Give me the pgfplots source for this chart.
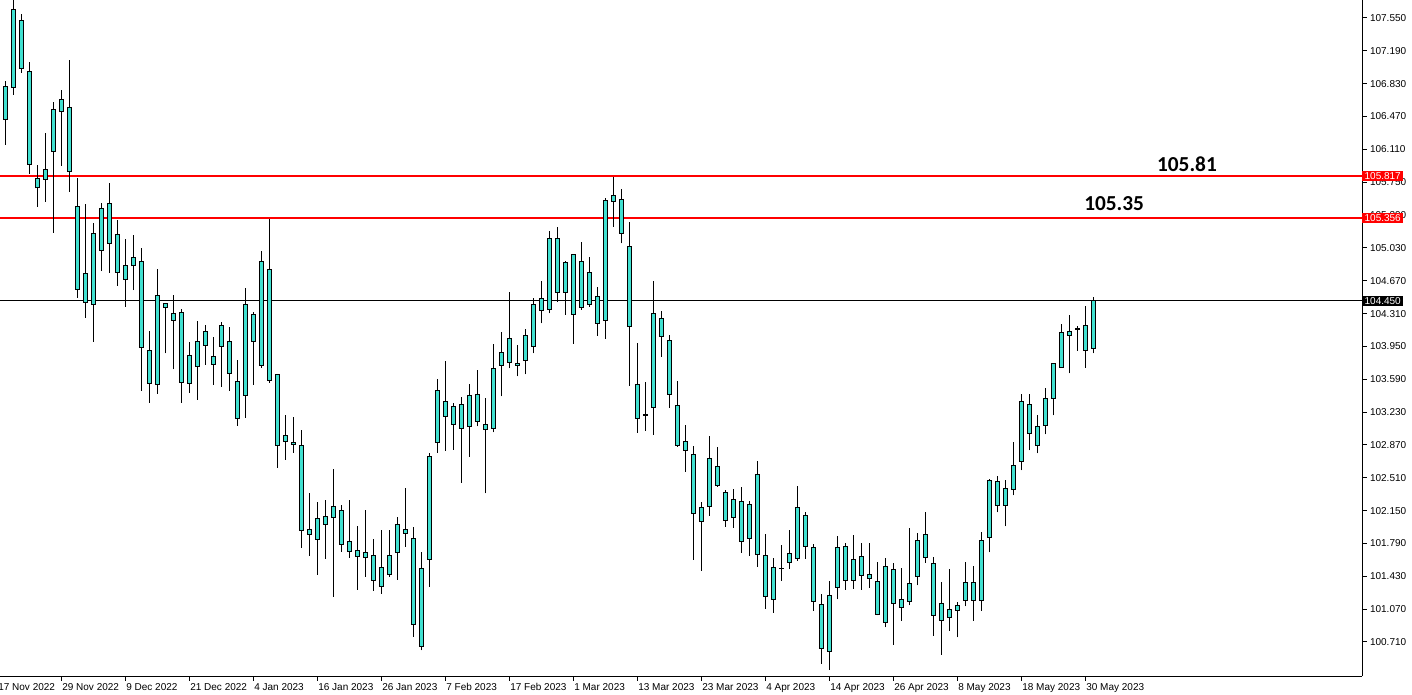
\documentclass[border=0pt]{standalone}
\usepackage{pgfplots}
\pgfplotsset{compat=1.18}
\usepackage{pgfplotstable}
\usepackage{fontspec}
\setmainfont{Liberation Sans}
\newfontfamily\lblfont{Carlito}
\definecolor{candle}{RGB}{64,224,208}

% daily candles, i = bar index (8 px apart); hi/lo = wick, top/bot = body
\pgfplotstableread{
i hi lo top bot
0 106.859 106.158 106.797 106.439
1 107.800 106.709 107.645 106.790
2 107.594 106.950 107.525 106.998
3 107.067 105.843 106.965 105.946
4 105.938 105.481 105.793 105.689
5 106.286 105.536 105.891 105.782
6 106.626 105.196 106.549 106.088
7 106.760 105.931 106.659 106.527
8 107.089 105.646 106.571 105.869
9 105.799 104.484 105.486 104.576
10 105.511 104.264 104.751 104.433
11 105.299 104.001 105.190 104.411
12 105.518 104.776 105.464 105.003
13 105.741 104.758 105.518 105.080
14 105.335 104.615 105.179 104.762
15 105.127 104.385 104.839 104.685
16 105.171 104.568 104.927 104.834
17 105.025 103.464 104.883 103.940
18 104.119 103.333 103.907 103.545
19 104.798 103.431 104.510 103.534
20 104.429 103.874 104.415 104.378
21 104.513 103.699 104.313 104.236
22 104.357 103.333 104.324 103.556
23 104.001 103.442 103.852 103.545
24 104.228 103.366 104.006 103.732
25 104.184 103.749 104.115 103.962
26 104.053 103.530 103.841 103.754
27 104.214 103.505 104.181 103.951
28 104.162 103.464 104.006 103.655
29 103.801 103.081 103.567 103.157
30 104.590 103.168 104.411 103.414
31 104.324 103.530 104.302 104.006
32 104.996 103.716 104.883 103.743
33 105.343 103.552 104.795 103.578
34 103.644 102.620 103.644 102.866
35 103.198 102.708 102.975 102.910
36 103.176 102.785 102.899 102.877
37 103.033 101.743 102.866 101.934
38 102.346 101.655 101.945 101.890
39 102.244 101.447 102.065 101.835
40 102.266 101.623 102.087 102.000
41 102.606 101.206 102.197 102.076
42 102.211 101.699 102.153 101.780
43 102.266 101.634 101.813 101.704
44 101.981 101.283 101.718 101.649
45 102.156 101.425 101.693 101.638
46 101.839 101.272 101.660 101.386
47 101.940 101.239 101.528 101.320
48 101.940 101.425 101.660 101.452
49 102.080 101.392 102.000 101.693
50 102.398 101.754 101.945 101.901
51 101.970 100.768 101.846 100.907
52 101.696 100.618 101.517 100.662
53 102.785 101.316 102.745 101.616
54 103.592 102.785 103.469 102.899
55 103.790 102.806 103.348 103.184
56 103.326 102.817 103.293 103.096
57 103.392 102.456 103.315 103.052
58 103.534 102.741 103.414 103.074
59 103.691 103.074 103.425 103.129
60 103.381 102.339 103.096 103.041
61 103.973 103.008 103.710 103.052
62 104.104 103.403 103.885 103.743
63 104.543 103.710 104.039 103.776
64 103.962 103.622 103.765 103.743
65 104.137 103.644 104.072 103.797
66 104.477 103.874 104.411 103.951
67 104.663 104.203 104.477 104.346
68 105.215 104.313 105.135 104.357
69 105.255 104.437 105.135 104.543
70 104.883 104.297 104.872 104.543
71 104.959 103.979 104.959 104.302
72 105.091 104.352 104.883 104.378
73 104.927 104.385 104.762 104.411
74 104.598 104.067 104.499 104.203
75 105.573 104.034 105.551 104.236
76 105.803 105.262 105.606 105.540
77 105.672 105.080 105.562 105.190
78 105.310 103.519 105.047 104.170
79 103.984 103.004 103.534 103.162
80 103.556 103.026 103.201 103.195
81 104.663 102.982 104.313 103.282
82 104.335 103.837 104.258 104.061
83 104.072 103.278 104.017 103.425
84 103.567 102.850 103.304 102.866
85 103.085 102.576 102.910 102.811
86 102.855 101.612 102.767 102.117
87 102.241 101.491 102.186 102.033
88 102.964 102.094 102.723 102.197
89 102.844 102.412 102.635 102.427
90 102.372 101.973 102.350 102.044
91 102.387 101.962 102.274 102.076
92 102.409 101.688 102.252 101.813
93 102.252 101.655 102.219 101.846
94 102.694 101.535 102.548 101.671
95 101.893 101.074 101.660 101.210
96 101.630 101.031 101.528 101.178
97 101.773 101.381 101.517 101.513
98 101.937 101.513 101.682 101.583
99 102.419 101.601 102.186 101.627
100 102.134 101.623 102.098 101.758
101 101.780 101.052 101.748 101.156
102 101.236 100.472 101.123 100.640
103 101.378 100.406 101.221 100.607
104 101.871 101.178 101.748 101.309
105 101.795 101.283 101.758 101.386
106 101.882 101.294 101.616 101.386
107 101.795 101.283 101.649 101.441
108 101.795 101.305 101.452 101.408
109 101.586 101.002 101.375 101.013
110 101.627 100.871 101.539 100.925
111 101.575 100.680 101.506 101.134
112 101.521 100.945 101.178 101.090
113 101.959 101.110 101.353 101.156
114 101.901 101.331 101.824 101.430
115 102.134 101.579 101.890 101.638
116 101.638 100.779 101.572 101.002
117 101.364 100.570 101.134 100.947
118 101.506 100.833 101.068 100.980
119 101.145 100.761 101.112 101.057
120 101.583 101.101 101.364 101.167
121 101.539 100.943 101.364 101.167
122 101.912 101.052 101.824 101.167
123 102.493 101.693 102.482 101.857
124 102.526 102.131 102.471 102.208
125 102.482 101.978 102.394 102.208
126 102.899 102.317 102.646 102.383
127 103.425 102.592 103.348 102.690
128 103.425 102.811 103.315 102.997
129 103.195 102.778 103.074 102.866
130 103.490 102.986 103.381 103.085
131 103.765 103.195 103.765 103.381
132 104.192 103.721 104.104 103.721
133 104.291 103.655 104.115 104.071
134 104.170 103.903 104.144 104.137
135 104.389 103.716 104.181 103.907
136 104.488 103.874 104.450 103.929
}\candles

\begin{document}
\begin{tikzpicture}
\begin{axis}[
  at={(0,0)}, anchor=north west,
  scale only axis, width=1021.5pt, height=507pt,
  xmin=-0.666, xmax=169.58, ymin=100.337, ymax=107.747,
  axis x line*=bottom, axis y line*=right,
  axis line style={-, black, line width=0.75pt},
  tick align=outside, major tick length=3.5pt,
  tick style={black, line width=0.75pt},
  clip mode=individual,
  ytick={100.71,101.07,101.43,101.79,102.15,102.51,102.87,103.23,103.59,103.95,
         104.31,104.67,105.03,105.39,105.75,106.11,106.47,106.83,107.19,107.55},
  yticklabel style={font=\fontsize{7.5}{9}\selectfont, anchor=west, xshift=-1pt,
    /pgf/number format/fixed, /pgf/number format/fixed zerofill,
    /pgf/number format/precision=3, /pgf/number format/1000 sep={},
    /pgf/number format/assume math mode=true},
  xtick={7,15,...,135},
  xticklabels={29 Nov 2022, 9 Dec 2022, 21 Dec 2022, 4 Jan 2023, 16 Jan 2023,
    26 Jan 2023, 7 Feb 2023, 17 Feb 2023, 1 Mar 2023, 13 Mar 2023, 23 Mar 2023,
    4 Apr 2023, 14 Apr 2023, 26 Apr 2023, 8 May 2023, 18 May 2023, 30 May 2023},
  xticklabel style={font=\fontsize{7.5}{9}\selectfont, anchor=north west, xshift=-2.8pt, yshift=1.5pt},
]
% reference levels
\addplot[red, line width=1.5pt] coordinates {(-1,105.817) (170,105.817)};
\addplot[red, line width=1.5pt] coordinates {(-1,105.356) (170,105.356)};
\addplot[black, line width=0.75pt] coordinates {(-1,104.450) (170,104.450)};
% wicks
\addplot[draw=none, mark=none, error bars/.cd, y dir=plus, y explicit, error mark=none,
  error bar style={draw=black, line width=0.75pt}]
  table[x=i, y=lo, y error plus expr={\thisrow{hi}-\thisrow{lo}}] {\candles};
% body outline
\addplot[draw=none, mark=none, error bars/.cd, y dir=plus, y explicit, error mark=none,
  error bar style={draw=black, line width=3.75pt}]
  table[x=i, y expr={\thisrow{bot}-0.0055}, y error plus expr={\thisrow{top}-\thisrow{bot}+0.011}] {\candles};
% body fill
\addplot[draw=none, mark=none, error bars/.cd, y dir=plus, y explicit, error mark=none,
  error bar style={draw=candle, line width=2.25pt}]
  table[x=i, y expr={\thisrow{bot}+0.0055}, y error plus expr={max(\thisrow{top}-\thisrow{bot}-0.011,0)}] {\candles};

\node[font=\lblfont\bfseries\fontsize{16}{19}\selectfont] at (axis cs:147.7,105.949) {105.81};
\node[font=\lblfont\bfseries\fontsize{16}{19}\selectfont] at (axis cs:138.6,105.511) {105.35};

% first date label, cut by the left edge as in the reference
\node[anchor=north west, font=\fontsize{7.5}{9}\selectfont, xshift=-2.8pt, yshift=1.5pt,
  inner sep=0.333em] at ([yshift=-3.5pt]axis cs:-1,100.337) {17 Nov 2022};

\node[anchor=west, fill=red, text=white, inner xsep=1.8pt, inner ysep=1.3pt,
  font=\fontsize{7.5}{9}\selectfont] at (axis cs:169.58,105.817) {105.817};
\node[anchor=west, fill=red, text=white, inner xsep=1.8pt, inner ysep=1.3pt,
  font=\fontsize{7.5}{9}\selectfont] at (axis cs:169.58,105.356) {105.356};
\node[anchor=west, fill=black, text=white, inner xsep=1.8pt, inner ysep=1.3pt,
  font=\fontsize{7.5}{9}\selectfont] at (axis cs:169.58,104.450) {104.450};
\end{axis}
\pgfresetboundingbox
\path[use as bounding box] (0,0) rectangle (1059pt,-520.5pt);
\end{tikzpicture}
\end{document}
